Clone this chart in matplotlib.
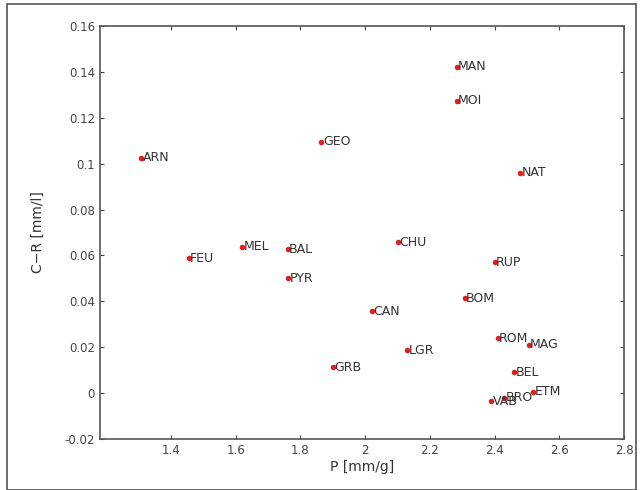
import matplotlib
matplotlib.use("Agg")
import matplotlib.pyplot as plt
import matplotlib.patches as patches

names = ["MAN", "MOI", "GEO", "ARN", "NAT", "CHU", "MEL", "BAL", "FEU", "RUP",
         "PYR", "BOM", "CAN", "ROM", "MAG", "LGR", "GRB", "BEL", "ETM", "VAB", "BRO"]
p_vals = [2.283, 2.283, 1.865, 1.308, 2.48, 2.10, 1.62, 1.76, 1.455, 2.40,
          1.763, 2.308, 2.02, 2.41, 2.505, 2.13, 1.90, 2.46, 2.52, 2.39, 2.43]
cr_vals = [0.1422, 0.1274, 0.1096, 0.1026, 0.0961, 0.0657, 0.0639, 0.0626, 0.0587, 0.057,
           0.050, 0.0413, 0.0357, 0.0239, 0.021, 0.0187, 0.0113, 0.0091, 0.0005, -0.0035, -0.002]

xticks = [1.4, 1.6, 1.8, 2.0, 2.2, 2.4, 2.6, 2.8]
xtick_labels = ["1.4", "1.6", "1.8", "2", "2.2", "2.4", "2.6", "2.8"]
yticks = [-0.02, 0, 0.02, 0.04, 0.06, 0.08, 0.1, 0.12, 0.14, 0.16]
ytick_labels = ["-0.02", "0", "0.02", "0.04", "0.06", "0.08", "0.1", "0.12", "0.14", "0.16"]

fig = plt.figure(figsize=(6.44, 4.9), dpi=100)
ax = fig.add_axes([0.155, 0.104, 0.814, 0.843])

# outer frame of the figure
fig.patches.append(patches.Rectangle((7/644, 0), 629/644, 486/490, transform=fig.transFigure,
                                     fill=False, edgecolor="#555555", linewidth=1.2))

ax.scatter(p_vals, cr_vals, s=16, color="#e02020", zorder=3, linewidths=0)
for n, x, y in zip(names, p_vals, cr_vals):
    ax.annotate(n, (x, y), xytext=(1, 0), textcoords="offset points",
                ha="left", va="center", fontsize=9, color="#333333")

ax.set_xlim(1.18, 2.8)
ax.set_ylim(-0.02, 0.16)
ax.set_xticks(xticks)
ax.set_xticklabels(xtick_labels)
ax.set_yticks(yticks)
ax.set_yticklabels(ytick_labels)
ax.tick_params(direction="in", top=True, right=True, labelsize=8.5,
               colors="#444444", length=3)
for s in ax.spines.values():
    s.set_color("#555555")
    s.set_linewidth(1.2)

ax.set_xlabel("P [mm/g]", fontsize=10, color="#333333", labelpad=2)
ax.set_ylabel("C\u2212R [mm/l]", fontsize=10, color="#333333", labelpad=14)

fig.savefig("out.png", dpi=100)
